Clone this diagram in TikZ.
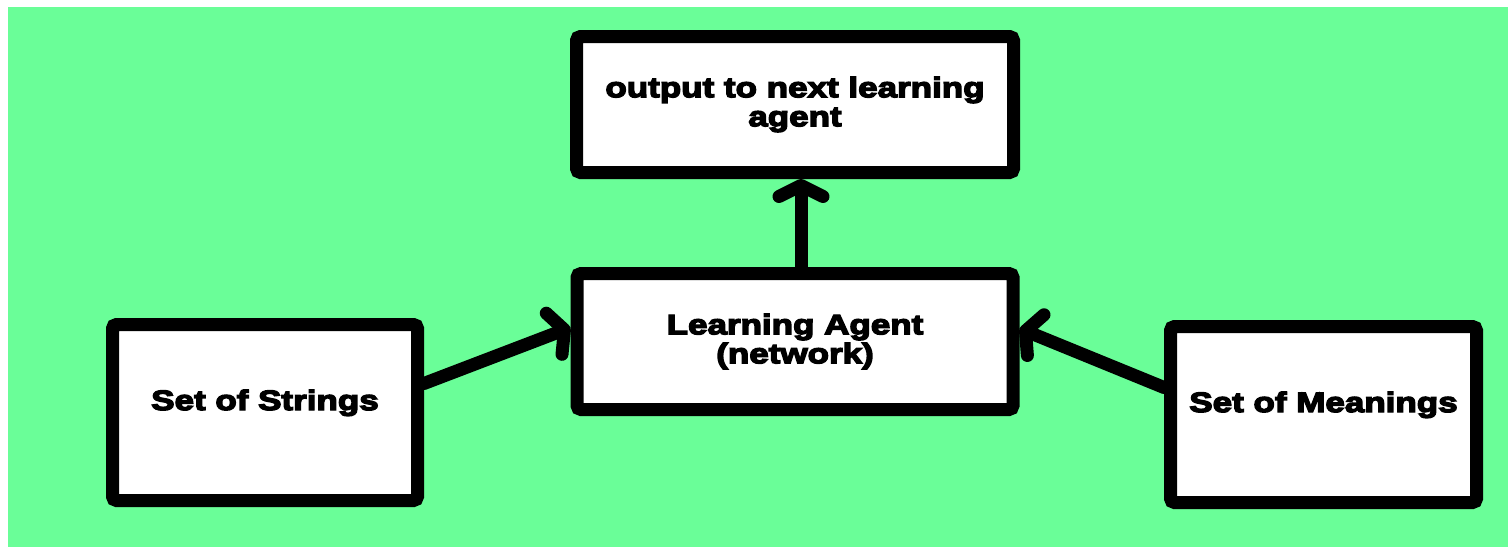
\documentclass[tikz,border=0pt]{standalone}
\usepackage{fontspec}
\usetikzlibrary{arrows.meta,calc}
\newfontfamily\heavyfont{Liberation Sans}[
  BoldFont={Liberation Sans Bold},
  BoldFeatures={FakeStretch=1.25,FakeBold=5}]
\definecolor{mint}{RGB}{106,254,152}
\tikzset{
  box/.style={draw=black, fill=white, line width=13pt, rounded corners=4pt,
    font=\heavyfont\bfseries\fontsize{28}{29}\selectfont, align=center,
    inner sep=0pt},
  flow/.style={line width=13pt, line cap=round,
    -{Straight Barb[length=11pt, width=44pt, line cap=round, line join=round]}},
}
\begin{document}
\begin{tikzpicture}[x=1pt, y=-1pt]
  % canvas and backdrop
  \useasboundingbox (0,0) rectangle (1508,547);
  \fill[white] (0,0) rectangle (1508,547);
  \fill[mint] (8,7) rectangle (1508,547);

  % boxes
  \node[box, minimum width=437pt, minimum height=136pt] (T) at (795,104.5)
    {output to next learning\\agent};
  \node[box, minimum width=436pt, minimum height=136pt] (M) at (795,341.5)
    {Learning Agent\\(network)};
  \node[box, minimum width=305pt, minimum height=176pt,
        text height=20pt, text depth=25pt] (L) at (265,412.5) {Set of Strings};
  \node[box, minimum width=306pt, minimum height=176pt,
        text height=20pt, text depth=25pt] (R) at (1323.5,414.5) {Set of Meanings};

  % connectors
  \draw[flow] ($(L.east)+(0,-29)$) -- ($(M.west)+(0,-14)$);
  \draw[flow] ($(R.west)+(0,-27)$) -- ($(M.east)+(0,-13)$);
  \draw[flow] ($(M.north)+(6,0)$) -- ($(T.south)+(6,0)$);
\end{tikzpicture}
\end{document}
